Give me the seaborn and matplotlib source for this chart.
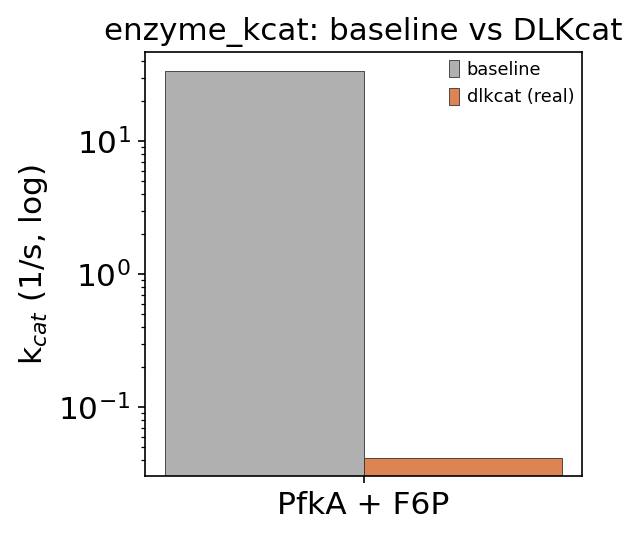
import matplotlib
matplotlib.use("Agg")
import matplotlib.pyplot as plt
import pandas as pd
import seaborn as sns

# values
pairs = ["PfkA + F6P"]
methods = ["baseline", "dlkcat (real)"]
kcat_values = [33.6, 0.0414]
colors = {"baseline": "#b0b0b0", "dlkcat (real)": "#dd8452"}

df = pd.DataFrame({
    "pair": pairs * len(methods),
    "method": methods,
    "kcat": kcat_values,
})

fig, ax = plt.subplots(figsize=(639 / 150, 538 / 150), dpi=150)
fig.subplots_adjust(left=0.227, right=0.911, top=0.903, bottom=0.115)

sns.barplot(
    data=df, x="pair", y="kcat", hue="method", palette=colors,
    width=0.8, edgecolor="#333333", linewidth=0.4, saturation=1,
    errorbar=None, ax=ax,
)
ax.set_yscale("log")
ax.set_ylim(0.0303, 46.7)
ax.set_xlim(-0.44, 0.44)

ax.set_title("enzyme_kcat: baseline vs DLKcat", fontsize=14.9)
ax.set_xlabel("")
ax.set_ylabel(r"k$_{cat}$ (1/s, log)", fontsize=15)
ax.tick_params(axis="both", which="major", labelsize=15)

ax.legend(
    loc="upper right", frameon=False, fontsize=8.5,
    handlelength=0.6, handleheight=1.1, handletextpad=0.4,
    borderaxespad=0.05,
)

fig.savefig("out.png", dpi=150)
